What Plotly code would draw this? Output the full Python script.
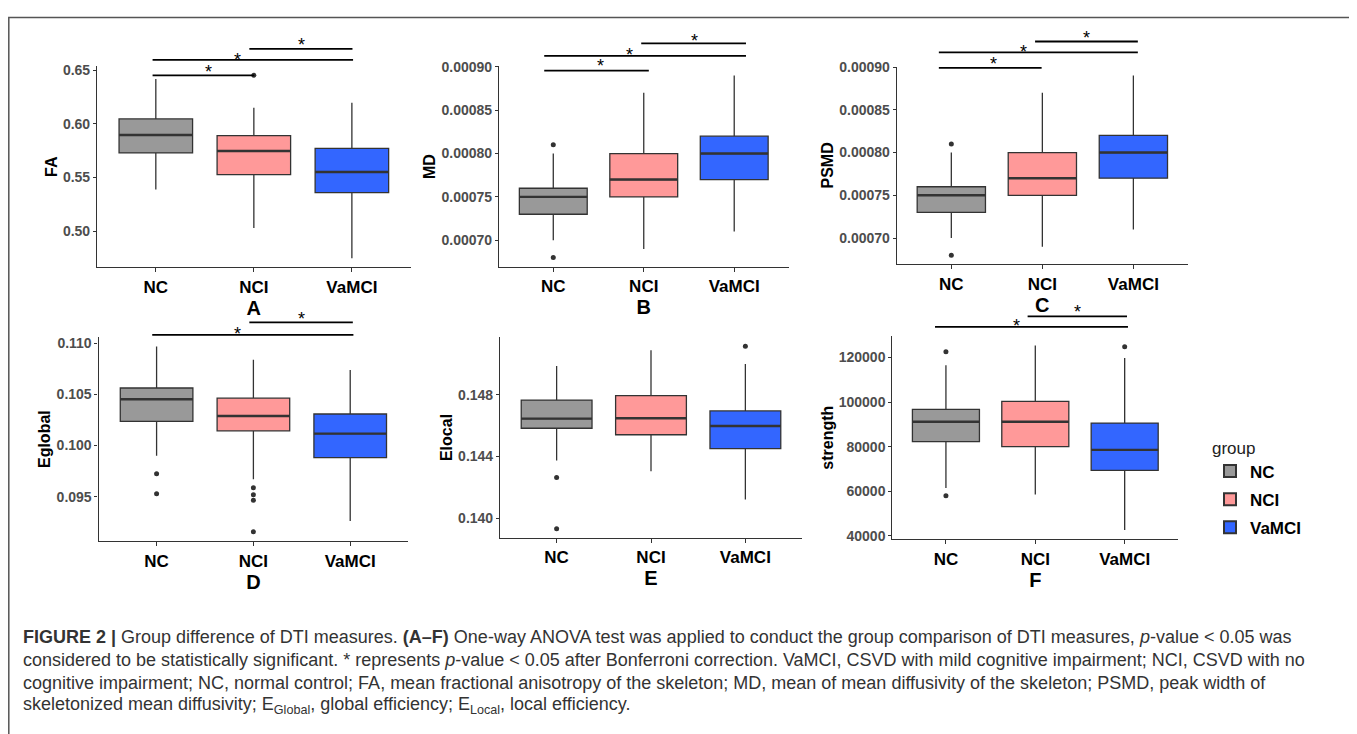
import plotly.graph_objects as go

# The page body adds an 8px margin, so the figure origin sits at page (8, 8).
OFF = 8
W, H = 1357 - OFF, 734 - OFF

GROUPS = ["NC", "NCI", "VaMCI"]
FILLS = ["#999999", "#FF9999", "#3366FF"]

# ---------------- data (box statistics) ----------------
# A: FA
fa_lower = [0.5388, 0.5031, 0.4749]
fa_q1 = [0.5729, 0.5527, 0.5360]
fa_median = [0.5896, 0.5747, 0.5552]
fa_q3 = [0.6046, 0.5890, 0.5771]
fa_upper = [0.6418, 0.6149, 0.6195]
fa_outliers = [[], [0.6452], []]
fa_ticks = [0.50, 0.55, 0.60, 0.65]

# B: MD
md_lower = [0.00070, 0.00069, 0.00071]
md_q1 = [0.00073, 0.00075, 0.00077]
md_median = [0.00075, 0.00077, 0.00080]
md_q3 = [0.00076, 0.00080, 0.00082]
md_upper = [0.00080, 0.00087, 0.00089]
md_outliers = [[0.00081, 0.00068], [], []]
md_ticks = [0.00070, 0.00075, 0.00080, 0.00085, 0.00090]

# C: PSMD
psmd_lower = [0.00070, 0.00069, 0.00071]
psmd_q1 = [0.00073, 0.00075, 0.00077]
psmd_median = [0.00075, 0.00077, 0.00080]
psmd_q3 = [0.00076, 0.00080, 0.00082]
psmd_upper = [0.00080, 0.00087, 0.00089]
psmd_outliers = [[0.00081, 0.00068], [], []]
psmd_ticks = [0.00070, 0.00075, 0.00080, 0.00085, 0.00090]

# D: Eglobal
eg_lower = [0.09901, 0.09670, 0.09264]
eg_q1 = [0.10235, 0.10144, 0.09882]
eg_median = [0.10452, 0.10288, 0.10116]
eg_q3 = [0.10562, 0.10462, 0.10308]
eg_upper = [0.10968, 0.10837, 0.10737]
eg_outliers = [[0.09725, 0.09529], [0.09587, 0.09519, 0.09465, 0.09157], []]
eg_ticks = [0.095, 0.100, 0.105, 0.110]

# E: Elocal
el_lower = [0.14375, 0.14305, 0.14122]
el_q1 = [0.14583, 0.14541, 0.14451]
el_median = [0.14645, 0.14648, 0.14598]
el_q3 = [0.14765, 0.14794, 0.14695]
el_upper = [0.14986, 0.15087, 0.14999]
el_outliers = [[0.14265, 0.13934], [], [0.15113]]
el_ticks = [0.140, 0.144, 0.148]

# F: strength
st_lower = [61500, 58490, 42650]
st_q1 = [82210, 80000, 69400]
st_median = [91140, 91140, 78530]
st_q3 = [96720, 100270, 90560]
st_upper = [116460, 125400, 119700]
st_outliers = [[122520, 57960], [], [124800]]
st_ticks = [40000, 60000, 80000, 100000, 120000]

# significance brackets: (x_start, x_end, y) in data units, star (x, y)
fa_brackets = [(0.967, 2.005, 0.64515), (0.967, 3.012, 0.6595), (1.954, 3.006, 0.6698)]
fa_stars = [(1.534, 0.6518), (1.829, 0.6634), (2.487, 0.6774)]
md_brackets = [(0.90, 2.056, 0.0008955), (0.90, 3.13, 0.0009127), (1.972, 3.13, 0.0009271)]
md_stars = [(1.519, 0.0009056), (1.841, 0.0009187), (2.556, 0.0009349)]
psmd_brackets = [(0.863, 1.992, 0.0008989), (0.863, 3.049, 0.0009172), (1.920, 3.049, 0.0009298)]
psmd_stars = [(1.464, 0.0009085), (1.792, 0.0009218), (2.481, 0.0009383)]
eg_brackets = [(0.955, 3.033, 0.11081), (1.958, 3.027, 0.11202)]
eg_stars = [(1.833, 0.11129), (2.50, 0.11273)]
el_brackets = []
el_stars = []
st_brackets = [(0.878, 3.037, 133717), (1.914, 3.026, 138452)]
st_stars = [(1.786, 135930), (2.47, 142258)]

CAPTION = [
    "<b>FIGURE 2 |</b> Group difference of DTI measures. <b>(A–F)</b> One-way ANOVA test was applied to conduct the group comparison of DTI measures, <i>p</i>-value &lt; 0.05 was",
    "considered to be statistically significant. * represents <i>p</i>-value &lt; 0.05 after Bonferroni correction. VaMCI, CSVD with mild cognitive impairment; NCI, CSVD with no",
    "cognitive impairment; NC, normal control; FA, mean fractional anisotropy of the skeleton; MD, mean of mean diffusivity of the skeleton; PSMD, peak width of",
    "skeletonized mean diffusivity; E<sub>Global</sub>, global efficiency; E<sub>Local</sub>, local efficiency.",
]

panels = [
    dict(letter="A", ytitle="FA", stats=(fa_lower, fa_q1, fa_median, fa_q3, fa_upper), out=fa_outliers,
         ticks=fa_ticks, fmt=".2f", br=fa_brackets, stars=fa_stars),
    dict(letter="B", ytitle="MD", stats=(md_lower, md_q1, md_median, md_q3, md_upper), out=md_outliers,
         ticks=md_ticks, fmt=".5f", br=md_brackets, stars=md_stars),
    dict(letter="C", ytitle="PSMD", stats=(psmd_lower, psmd_q1, psmd_median, psmd_q3, psmd_upper), out=psmd_outliers,
         ticks=psmd_ticks, fmt=".5f", br=psmd_brackets, stars=psmd_stars),
    dict(letter="D", ytitle="Eglobal", stats=(eg_lower, eg_q1, eg_median, eg_q3, eg_upper), out=eg_outliers,
         ticks=eg_ticks, fmt=".3f", br=eg_brackets, stars=eg_stars),
    dict(letter="E", ytitle="Elocal", stats=(el_lower, el_q1, el_median, el_q3, el_upper), out=el_outliers,
         ticks=el_ticks, fmt=".3f", br=el_brackets, stars=el_stars),
    dict(letter="F", ytitle="strength", stats=(st_lower, st_q1, st_median, st_q3, st_upper), out=st_outliers,
         ticks=st_ticks, fmt="d", br=st_brackets, stars=st_stars),
]

# ---------------- layout geometry (page pixels) ----------------
def px(x):
    return (x - OFF) / W


def py(y):
    return 1 - (y - OFF) / H


# plot area of each panel: left, right, top, bottom (page pixels)
BOXES = [
    (97, 410.7, 59, 264),
    (499, 788.5, 59.3, 263.3),
    (896.7, 1188, 59.5, 260.7),
    (98.5, 408.3, 335, 542.7),
    (500, 802, 335, 539.3),
    (892.3, 1178.3, 334, 540.7),
]

FONT = "Liberation Sans, Arial, Helvetica, sans-serif"
AX = "#333333"

fig = go.Figure()
layout = dict(
    width=W, height=H, margin=dict(l=0, r=0, t=0, b=0),
    paper_bgcolor="white", plot_bgcolor="white",
    font=dict(family=FONT, color="black"),
    boxmode="overlay", showlegend=True,
)

annotations = []
shapes = []

for i, p in enumerate(panels):
    n = i + 1
    xa = "x" if n == 1 else f"x{n}"
    ya = "y" if n == 1 else f"y{n}"
    l, r, t, b = BOXES[i]
    xdom = [px(l), px(r)]
    ydom = [py(b), py(t)]
    lower, q1, med, q3, upper = p["stats"]
    allv = list(lower) + list(upper) + [v for o in p["out"] for v in o]
    lo, hi = min(allv), max(allv)
    pad = 0.05 * (hi - lo)
    yr = [lo - pad, hi + pad]

    for k, g in enumerate(GROUPS):
        fig.add_trace(go.Box(
            x=[k + 1], q1=[q1[k]], median=[med[k]], q3=[q3[k]],
            lowerfence=[lower[k]], upperfence=[upper[k]],
            width=0.75, whiskerwidth=0, fillcolor=FILLS[k],
            line=dict(color=AX, width=1.3), boxpoints=False,
            name=g, legendgroup=g, showlegend=(i == 0),
            hoverinfo="skip", xaxis=xa, yaxis=ya,
        ))
        # thicker median bar (ggplot draws the median at double width)
        fig.add_trace(go.Box(
            x=[k + 1], q1=[med[k]], median=[med[k]], q3=[med[k]],
            lowerfence=[med[k]], upperfence=[med[k]],
            width=0.75, whiskerwidth=0, fillcolor="rgba(0,0,0,0)",
            line=dict(color=AX, width=2.4), boxpoints=False,
            name=g, legendgroup=g, showlegend=False,
            hoverinfo="skip", xaxis=xa, yaxis=ya,
        ))
        if p["out"][k]:
            fig.add_trace(go.Scatter(
                x=[k + 1] * len(p["out"][k]), y=p["out"][k], mode="markers",
                marker=dict(color=AX, size=5), showlegend=False,
                hoverinfo="skip", xaxis=xa, yaxis=ya,
            ))

    layout["xaxis" if n == 1 else f"xaxis{n}"] = dict(
        domain=xdom, range=[0.4, 3.6], anchor=ya,
        tickvals=[1, 2, 3], ticktext=GROUPS,
        tickfont=dict(size=17, weight="bold", color="black", family=FONT),
        ticks="outside", ticklen=4, tickcolor=AX, tickwidth=1.1,
        showline=True, linecolor=AX, linewidth=1.1,
        showgrid=False, zeroline=False, fixedrange=True,
        title=dict(text=p["letter"], font=dict(size=20, weight="bold", color="black", family=FONT), standoff=1),
    )
    layout["yaxis" if n == 1 else f"yaxis{n}"] = dict(
        domain=ydom, range=yr, anchor=xa,
        tickvals=p["ticks"], tickformat=p["fmt"],
        tickfont=dict(size=14, weight="bold", color="#4D4D4D", family=FONT),
        ticks="outside", ticklen=3, tickcolor=AX, tickwidth=1.1,
        showline=True, linecolor=AX, linewidth=1.1,
        showgrid=False, zeroline=False, fixedrange=True,
        title=dict(text=p["ytitle"], font=dict(size=16, weight="bold", color="black", family=FONT), standoff=1),
    )

    def to_paper(v, yr=yr, ydom=ydom):
        return ydom[0] + (v - yr[0]) / (yr[1] - yr[0]) * (ydom[1] - ydom[0])

    for (x0, x1, yv) in p["br"]:
        shapes.append(dict(type="line", xref=xa, yref="paper", x0=x0, x1=x1,
                           y0=to_paper(yv), y1=to_paper(yv),
                           line=dict(color="black", width=1.8)))
    for (sx, sy) in p["stars"]:
        annotations.append(dict(x=sx, y=to_paper(sy), xref=xa, yref="paper", text="*",
                                showarrow=False, xanchor="center", yanchor="middle", yshift=-4,
                                font=dict(size=18, color="black", family=FONT)))

# caption
CAP_Y = [640, 663.3, 686.7, 710]
for line, cy in zip(CAPTION, CAP_Y):
    annotations.append(dict(x=px(21), y=py(cy), xref="paper", yref="paper", text=line,
                            showarrow=False, xanchor="left", yanchor="middle",
                            font=dict(size=18, color="#333333", family=FONT)))

# outer frame
shapes.append(dict(type="rect", xref="paper", yref="paper", x0=px(8.8), x1=px(1355.5),
                   y0=-0.05, y1=py(9.5), line=dict(color="#555555", width=1.5)))

layout["annotations"] = annotations
layout["shapes"] = shapes
layout["legend"] = dict(
    x=px(1210), y=py(431), xanchor="left", yanchor="top",
    title=dict(text="group", font=dict(size=17, color="#222222", family=FONT, weight="normal")),
    font=dict(size=17, weight="bold", color="black", family=FONT),
    bgcolor="rgba(0,0,0,0)", tracegroupgap=3, itemsizing="constant",
)
fig.update_layout(**layout)
fig.write_html("out.html")
